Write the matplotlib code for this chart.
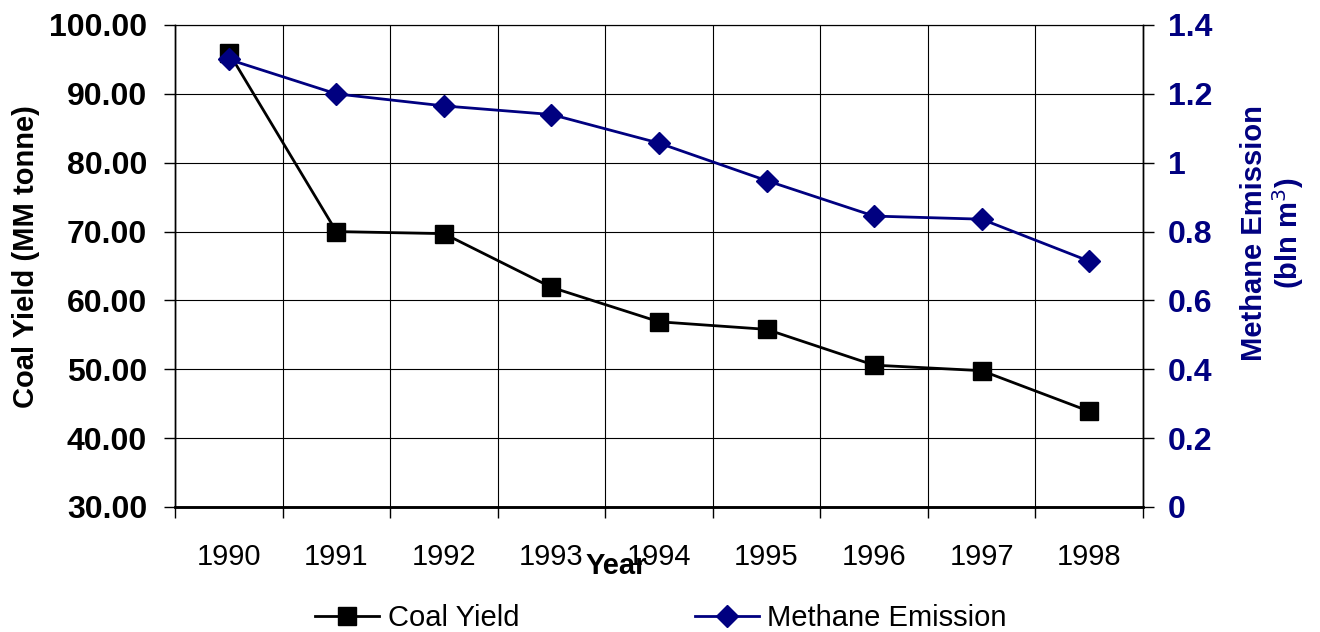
"""Coal yield vs. methane emission, 1990-1998, two y axes."""
import matplotlib
matplotlib.use("Agg")
import matplotlib.pyplot as plt
from matplotlib.ticker import FixedLocator, FuncFormatter

YEARS = ["1990", "1991", "1992", "1993", "1994", "1995", "1996", "1997", "1998"]
COAL_YIELD = [96.0, 70.0, 69.7, 61.9, 56.9, 55.8, 50.6, 49.8, 43.9]   # MM tonne
METHANE = [1.30, 1.20, 1.165, 1.14, 1.057, 0.948, 0.845, 0.836, 0.714]  # bln m3

NAVY = "#000080"

plt.rcParams["font.family"] = ["Liberation Sans", "DejaVu Sans"]

fig = plt.figure(figsize=(13.2, 6.32), dpi=100)
ax = fig.add_axes([175 / 1320, 125 / 632, 968 / 1320, 482 / 632])
ax2 = ax.twinx()

x = list(range(len(YEARS)))
l1, = ax.plot(x, COAL_YIELD, "-", color="black", linewidth=2,
              marker="s", markersize=13, label="Coal Yield", zorder=3)
l2, = ax2.plot(x, METHANE, "-", color=NAVY, linewidth=2,
               marker="D", markersize=11, label="Methane Emission", zorder=3)

# x axis: labels at category centres, grid/ticks at category boundaries
ax.set_xlim(-0.5, len(YEARS) - 0.5)
ax.set_xticks(x)
ax.set_xticklabels(YEARS, fontsize=21)
ax.tick_params(axis="x", which="major", length=0, pad=26)
ax.xaxis.set_minor_locator(FixedLocator([i - 0.5 for i in range(len(YEARS) + 1)]))
ax.tick_params(axis="x", which="minor", length=8, width=1, direction="out")
ax.grid(True, which="minor", axis="x", color="black", linewidth=0.8)

# left axis
ax.set_ylim(30, 100)
ax.set_yticks(range(30, 101, 10))
ax.yaxis.set_major_formatter(FuncFormatter(lambda v, p: f"{v:.2f}"))
ax.tick_params(axis="y", length=8, width=1, pad=12, labelsize=23)
for t in ax.get_yticklabels():
    t.set_fontweight("bold")
ax.grid(True, which="major", axis="y", color="black", linewidth=0.8)
fig.text(26 / 1320, 1 - 257 / 632, "Coal Yield (MM tonne)", fontsize=21,
         fontweight="bold", rotation=90, ha="center", va="center")

# right axis
ax2.set_ylim(0, 1.4)
ax2.set_yticks([0, 0.2, 0.4, 0.6, 0.8, 1.0, 1.2, 1.4])
ax2.yaxis.set_major_formatter(FuncFormatter(lambda v, p: f"{v:g}"))
ax2.tick_params(axis="y", length=8, width=1, pad=10, labelsize=23, labelcolor=NAVY)
for t in ax2.get_yticklabels():
    t.set_fontweight("bold")
fig.text(1273 / 1320, 1 - 233 / 632, "Methane Emission\n(bln m$^3$)", fontsize=21,
         fontweight="bold", color=NAVY, rotation=90, ha="center", va="center",
         multialignment="center", linespacing=1.05)

for a in (ax, ax2):
    a.spines["top"].set_linewidth(0.8)
    a.spines["left"].set_linewidth(1)
    a.spines["right"].set_linewidth(1)
    a.spines["bottom"].set_linewidth(1.8)

fig.text(616 / 1320, 1 - 566 / 632, "Year", fontsize=21, fontweight="bold",
         ha="center", va="center")

fig.legend([l1, l2], ["Coal Yield", "Methane Emission"], loc="center",
           bbox_to_anchor=(661 / 1320, 1 - 618 / 632), ncol=2, frameon=False,
           fontsize=21, columnspacing=6, handlelength=2.2, handletextpad=0.3)

fig.savefig("out.png", dpi=100)
